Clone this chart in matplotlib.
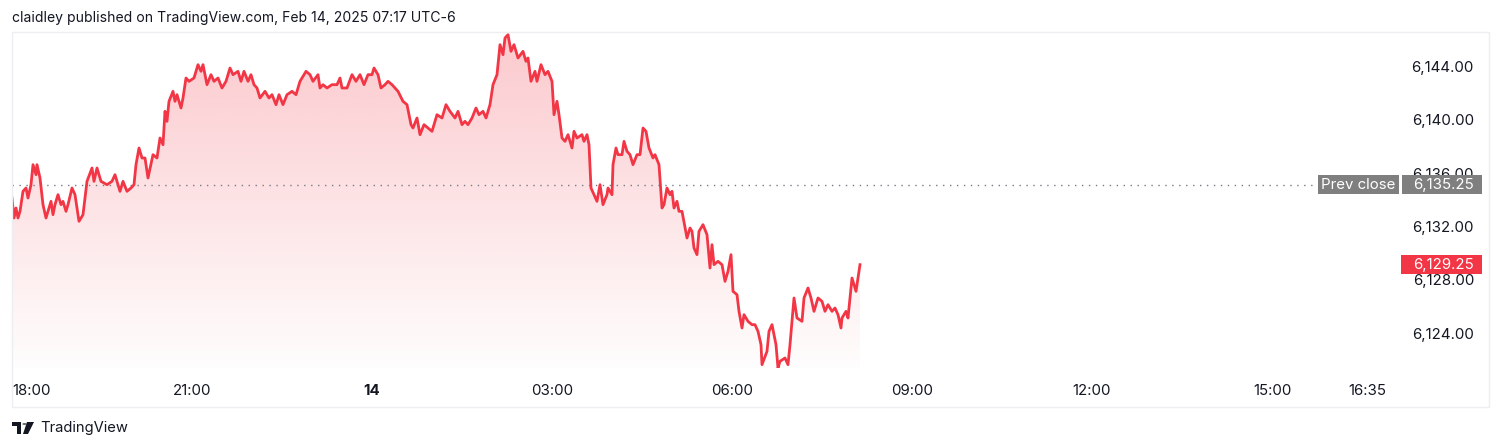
import numpy as np
import matplotlib
matplotlib.use("Agg")
import matplotlib.pyplot as plt
from matplotlib.patches import Rectangle, Polygon, Circle
from matplotlib.colors import to_rgb
from matplotlib.transforms import blended_transform_factory

plt.rcParams['font.family'] = ['Inter', 'DejaVu Sans']

# minutes after 18:00 (Feb 13) and ES price
minutes = [0, 2, 4, 6, 8, 11, 14, 16, 19, 21, 24, 25, 28, 31, 34, 36, 39, 41, 43, 46,
           49, 51, 54, 56, 60, 63, 67, 71, 75, 80, 82, 85, 89, 95, 100, 103, 108, 111, 115, 119,
           122, 124, 127, 130, 133, 136, 141, 145, 148, 151, 153, 155, 157, 161, 163, 165, 169, 171, 174, 177,
           182, 186, 189, 191, 195, 199, 202, 206, 210, 214, 218, 221, 226, 229, 232, 236, 239, 242, 245, 248,
           253, 257, 260, 264, 267, 271, 275, 280, 284, 288, 294, 298, 301, 306, 308, 311, 315, 320, 325, 328,
           330, 335, 340, 344, 348, 352, 356, 360, 362, 366, 369, 373, 376, 380, 383, 386, 391, 395, 399, 401,
           405, 408, 412, 416, 420, 425, 430, 434, 438, 443, 446, 450, 453, 456, 460, 464, 467, 471, 474, 478,
           481, 485, 488, 491, 493, 496, 499, 502, 506, 511, 514, 516, 519, 523, 525, 529, 533, 536, 540, 542,
           545, 547, 550, 553, 556, 560, 562, 565, 570, 572, 575, 577, 579, 582, 585, 588, 591, 595, 596, 600,
           601, 604, 606, 610, 612, 615, 618, 621, 625, 628, 631, 634, 637, 641, 643, 647, 650, 652, 655, 658,
           660, 662, 665, 667, 670, 675, 678, 680, 682, 685, 687, 691, 695, 698, 700, 702, 706, 710, 713, 716,
           719, 721, 725, 727, 730, 732, 736, 740, 743, 746, 749, 750, 755, 757, 760, 764, 766, 768, 773, 776,
           778, 782, 785, 790, 792, 796, 799, 802, 806, 810, 813, 816, 820, 823, 826, 829, 830, 834, 836, 838,
           840, 844, 848]
prices = [6134.25, 6132.75, 6133.5, 6132.75, 6133.25, 6134.75, 6135.0, 6134.25, 6135.25, 6136.75,
          6136.0, 6136.75, 6135.75, 6133.75, 6132.75, 6133.25, 6134.0, 6133.0, 6133.75, 6134.5,
          6133.75, 6134.0, 6133.25, 6133.75, 6135.0, 6134.5, 6132.5, 6133.0, 6135.5, 6136.5,
          6135.5, 6136.5, 6135.5, 6135.25, 6135.5, 6136.0, 6134.75, 6135.5, 6134.75, 6135.0,
          6135.25, 6136.75, 6138.0, 6137.25, 6137.25, 6135.75, 6137.5, 6137.25, 6138.75, 6138.25,
          6140.75, 6140.0, 6141.5, 6142.25, 6141.5, 6142.0, 6141.0, 6141.75, 6143.25, 6143.0,
          6143.25, 6144.25, 6143.75, 6144.25, 6142.75, 6143.5, 6143.0, 6143.25, 6142.5, 6143.0,
          6144.0, 6143.5, 6143.75, 6143.0, 6143.75, 6143.0, 6143.5, 6142.75, 6142.5, 6141.75,
          6142.25, 6141.75, 6142.0, 6141.25, 6142.0, 6141.25, 6142.0, 6142.25, 6142.0, 6143.0,
          6143.75, 6143.5, 6143.0, 6143.5, 6142.5, 6142.75, 6142.5, 6142.75, 6142.75, 6143.25,
          6142.5, 6142.5, 6143.5, 6143.0, 6143.5, 6142.75, 6143.5, 6143.5, 6144.0, 6143.5,
          6142.5, 6142.75, 6143.0, 6142.75, 6142.5, 6142.25, 6141.5, 6141.25, 6139.75, 6139.5,
          6140.25, 6139.0, 6139.75, 6139.5, 6139.25, 6140.5, 6140.25, 6141.25, 6140.75, 6140.25,
          6140.75, 6139.75, 6140.0, 6139.75, 6140.25, 6141.0, 6140.5, 6140.75, 6140.25, 6141.25,
          6142.75, 6143.5, 6145.75, 6145.0, 6146.25, 6146.5, 6145.25, 6145.75, 6144.75, 6145.25,
          6144.5, 6144.75, 6143.0, 6143.75, 6143.0, 6144.25, 6143.5, 6143.75, 6143.0, 6140.5,
          6141.5, 6140.5, 6138.75, 6138.5, 6139.0, 6138.0, 6139.25, 6138.75, 6139.0, 6138.5,
          6139.0, 6138.25, 6135.0, 6134.5, 6134.0, 6135.25, 6133.75, 6134.5, 6135.0, 6134.5,
          6136.75, 6138.0, 6137.5, 6137.5, 6138.5, 6137.75, 6137.5, 6136.75, 6137.5, 6137.5,
          6139.5, 6139.25, 6138.0, 6137.25, 6137.5, 6136.75, 6133.5, 6133.75, 6135.0, 6134.5,
          6134.75, 6133.5, 6134.0, 6133.25, 6133.25, 6131.25, 6132.0, 6131.75, 6130.5, 6130.0,
          6131.75, 6132.25, 6131.5, 6129.0, 6130.75, 6129.25, 6129.5, 6129.25, 6128.0, 6128.75,
          6130.0, 6127.25, 6127.0, 6125.75, 6124.5, 6125.5, 6125.0, 6124.75, 6124.75, 6124.25,
          6123.25, 6121.75, 6122.75, 6124.25, 6124.75, 6123.25, 6121.5, 6122.0, 6122.25, 6121.75,
          6123.25, 6126.75, 6125.25, 6125.0, 6126.75, 6127.5, 6126.75, 6125.75, 6126.75, 6126.5,
          6125.75, 6126.25, 6125.75, 6126.0, 6125.5, 6124.5, 6125.25, 6125.75, 6125.25, 6126.75,
          6128.25, 6127.25, 6129.25]

prev_close = 6135.25
price_ticks = [6144, 6140, 6136, 6132, 6128, 6124]
time_ticks = [0, 180, 360, 540, 720, 900, 1080, 1260, 1355]
time_labels = ['18:00', '21:00', '14', '03:00', '06:00', '09:00', '12:00', '15:00', '16:35']

RED = '#F23645'
TXT = '#131722'
W, H = 1500, 448
FS = 10.8


def fx(x):
    return x / W


def fy(y):
    return 1 - y / H


fig = plt.figure(figsize=(15, 4.48), dpi=100)
fig.patch.set_facecolor('white')

# panel frame
fig.patches.append(Rectangle((fx(12), fy(407)), fx(1477), 375 / H, transform=fig.transFigure,
                             fill=False, edgecolor='#eceef2', lw=1))

ax = fig.add_axes([fx(12), fy(368), fx(1477), 336 / H])
ax.set_xlim(0, 1477)
ax.set_ylim(6121.5, 6146.7)
ax.axis('off')

t = np.array(minutes)
p = np.array(prices)

# gradient fill under the line
y0, y1 = ax.get_ylim()
grad = np.zeros((256, 1, 4))
grad[:, 0, :3] = to_rgb(RED)
grad[:, 0, 3] = np.linspace(0.27, 0.01, 256)
img = ax.imshow(grad, extent=[t[0], t[-1], y0, y1], aspect='auto', origin='upper', zorder=1)
poly = ax.fill_between(t, p, y0, color='none', lw=0)
clip = poly.get_paths()[0]
img.set_clip_path(clip, transform=ax.transData)

ax.plot(t, p, color=RED, lw=2.0, zorder=3, solid_joinstyle='round')

# previous close dotted line
ax.axhline(prev_close, xmin=0, xmax=1306 / 1477, color='#787b86', lw=1, ls=(0, (1, 4)), zorder=2)

trans = blended_transform_factory(ax.transAxes, ax.transData)
xr = (1474 - 12) / 1477
for v in price_ticks:
    ax.text(xr, v, f'{v:,.2f}', transform=trans, ha='right', va='center', fontsize=FS, color=TXT, zorder=4)

# prev close labels
bh = 1.4
ax.add_patch(Rectangle(((1318 - 12) / 1477, prev_close - bh / 2), 81 / 1477, bh, transform=trans,
                       facecolor='#7f7f7f', edgecolor='none', zorder=5))
ax.add_patch(Rectangle(((1402 - 12) / 1477, prev_close - bh / 2), 80 / 1477, bh, transform=trans,
                       facecolor='#7f7f7f', edgecolor='none', zorder=5))
ax.text((1358 - 12) / 1477, prev_close, 'Prev close', transform=trans, ha='center', va='center',
        fontsize=FS, color='white', zorder=6)
ax.text(xr, prev_close, f'{prev_close:,.2f}', transform=trans, ha='right', va='center',
        fontsize=FS, color='white', zorder=6)

last = prices[-1]
ax.add_patch(Rectangle(((1401 - 12) / 1477, last - bh / 2), 81 / 1477, bh, transform=trans,
                       facecolor=RED, edgecolor='none', zorder=5))
ax.text(xr, last, f'{last:,.2f}', transform=trans, ha='right', va='center',
        fontsize=FS, color='white', zorder=6)

# time axis labels
tx = blended_transform_factory(ax.transData, fig.transFigure)
for tt, lab in zip(time_ticks, time_labels):
    ha = 'left' if tt == 0 else 'center'
    ax.text(tt, fy(391), lab, transform=tx, ha=ha, va='center', fontsize=FS, color=TXT,
            fontweight='bold' if lab == '14' else 'normal')

# header
fig.text(fx(12), fy(18), 'claidley published on TradingView.com, Feb 14, 2025 07:17 UTC-6',
         ha='left', va='center', fontsize=10.1, color=TXT)

# footer logo + name
logo = [
    [(12, 422), (21, 422), (21, 434), (17, 434), (17, 426), (12, 426)],
    [(27, 422), (34, 422), (28, 434), (23, 434)],
]
for pts in logo:
    fig.patches.append(Polygon([(fx(a), fy(b)) for a, b in pts], closed=True,
                               transform=fig.transFigure, facecolor=TXT, edgecolor='none'))
fig.patches.append(Circle((fx(24.5), fy(424)), 2.2 / W, transform=fig.transFigure,
                          facecolor=TXT, edgecolor='none'))
fig.text(fx(40), fy(428), 'TradingView', ha='left', va='center', fontsize=10.6, color=TXT)

fig.savefig('out.png', dpi=100)
